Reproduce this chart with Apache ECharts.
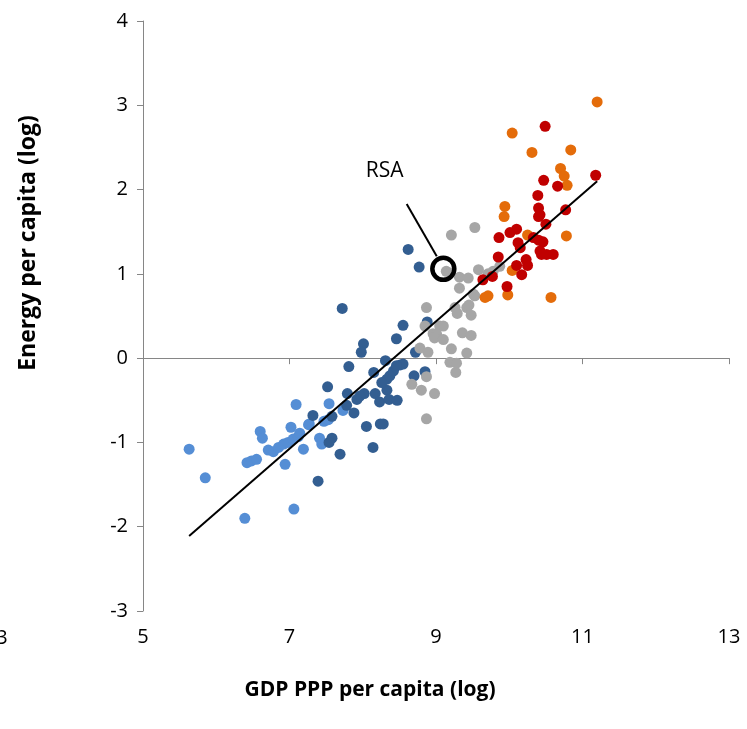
<!DOCTYPE html>
<html>
<head>
<meta charset="utf-8">
<script src="https://cdn.jsdelivr.net/npm/echarts@6/dist/echarts.min.js"></script>
<style>
  html, body { margin: 0; padding: 0; background: #fff; }
  #chart { width: 747px; height: 729px; }
</style>
</head>
<body>
<div id="chart"></div>
<script>
// 各组国家 [log GDP PPP per capita, log energy per capita]
var lightBlue = [
  [5.63, -1.08], [5.85, -1.42], [6.39, -1.90], [6.60, -0.87], [6.63, -0.95],
  [6.42, -1.24], [6.48, -1.22], [6.55, -1.20], [6.71, -1.09], [6.78, -1.11],
  [6.85, -1.06], [6.92, -1.02], [6.98, -1.00], [7.05, -0.96], [6.94, -1.26],
  [7.09, -0.55], [7.02, -0.82], [7.06, -1.79], [7.12, -0.93], [7.19, -1.08],
  [7.27, -0.78], [7.41, -0.95], [7.44, -1.02], [7.54, -0.54], [7.47, -0.75],
  [7.53, -0.73], [7.73, -0.62], [7.14, -0.89], [7.26, -0.79]
]
var darkBlue = [
  [8.62, 1.29], [8.77, 1.08], [7.72, 0.59], [8.88, 0.43], [8.55, 0.39],
  [8.46, 0.23], [8.01, 0.17], [7.98, 0.07], [8.72, 0.07], [7.81, -0.10],
  [8.31, -0.03], [8.15, -0.17], [8.51, -0.08], [8.55, -0.07], [7.52, -0.34],
  [8.70, -0.21], [8.85, -0.16], [7.79, -0.42], [8.02, -0.42], [7.96, -0.45],
  [7.92, -0.49], [8.17, -0.42], [8.23, -0.52], [8.33, -0.38], [8.36, -0.49],
  [8.47, -0.50], [7.88, -0.65], [7.78, -0.56], [8.05, -0.81], [8.24, -0.78],
  [8.28, -0.78], [7.32, -0.68], [7.58, -0.69], [8.14, -1.06], [7.69, -1.14],
  [7.58, -0.95], [7.54, -1.00], [7.39, -1.46], [8.42, -0.15], [8.37, -0.21],
  [8.33, -0.25], [8.26, -0.29], [8.46, -0.09]
]
var grey = [
  [9.53, 1.55], [9.21, 1.46], [9.14, 1.03], [9.19, 1.01], [9.32, 0.96],
  [9.44, 0.95], [9.58, 1.05], [9.32, 0.83], [9.53, 0.74], [8.87, 0.60],
  [9.26, 0.60], [9.42, 0.60], [9.45, 0.63], [9.29, 0.53], [9.48, 0.51],
  [8.85, 0.38], [9.05, 0.38], [9.10, 0.38], [8.96, 0.29], [9.01, 0.28],
  [8.98, 0.24], [9.10, 0.22], [9.36, 0.30], [9.48, 0.27], [8.78, 0.12],
  [8.89, 0.07], [9.21, 0.11], [9.42, 0.06], [9.19, -0.05], [9.28, -0.06],
  [9.27, -0.17], [8.87, -0.22], [8.67, -0.31], [8.80, -0.38], [8.98, -0.42],
  [8.87, -0.72], [9.71, 1.00], [9.78, 1.03], [9.87, 1.09], [9.51, 0.76]
]
var orange = [
  [11.20, 3.04], [10.04, 2.67], [10.31, 2.44], [10.84, 2.47], [10.70, 2.25],
  [10.75, 2.16], [10.79, 2.05], [9.94, 1.80], [9.93, 1.68], [10.25, 1.46],
  [10.78, 1.45], [10.04, 1.04], [9.71, 0.74], [9.67, 0.72], [9.98, 0.75],
  [10.57, 0.72]
]
var red = [
  [10.49, 2.75], [11.18, 2.17], [10.47, 2.11], [10.66, 2.04], [10.39, 1.93],
  [10.40, 1.78], [10.77, 1.76], [10.40, 1.68], [10.42, 1.70], [10.50, 1.59],
  [10.10, 1.53], [10.01, 1.49], [9.86, 1.43], [10.33, 1.43], [10.40, 1.40],
  [10.46, 1.38], [10.12, 1.37], [10.15, 1.31], [10.42, 1.27], [10.44, 1.23],
  [10.51, 1.23], [10.60, 1.23], [9.85, 1.20], [10.23, 1.17], [10.25, 1.10],
  [10.10, 1.10], [10.17, 0.99], [9.77, 0.97], [9.64, 0.93], [9.97, 0.85]
]
var trendLine = [[5.63, -2.11], [11.2, 2.1]]   // 回归线两端
var rsaPoint = [[9.10, 1.06]]
var rsaLeader = [[8.60, 1.83], [9.01, 1.21]]
var rsaLabelPos = [[8.30, 2.22]]

var font = 'Open Sans'

function dots (name, data, color) {
  return {
    name: name,
    type: 'scatter',
    data: data,
    symbolSize: 11,
    itemStyle: { color: color, opacity: 1 },
    z: 2
  }
}

var chart = echarts.init(document.getElementById('chart'))
var option = {
  animation: false,
  textStyle: { fontFamily: font },
  grid: { left: 143, right: 18, top: 21, bottom: 118 },
  xAxis: {
    type: 'value',
    min: 5,
    max: 13,
    interval: 2,
    splitLine: { show: false },
    axisLine: { lineStyle: { color: '#868686', width: 1 } },
    axisTick: { length: 6, lineStyle: { color: '#868686' } },
    axisLabel: { color: '#000', fontSize: 20, margin: 16, fontFamily: font }
  },
  yAxis: {
    type: 'value',
    min: -3,
    max: 4,
    interval: 1,
    splitLine: { show: false },
    axisLine: { show: true, lineStyle: { color: '#868686', width: 1 } },
    axisTick: { show: true, length: 6, lineStyle: { color: '#868686' } },
    axisLabel: { color: '#000', fontSize: 20, margin: 15, fontFamily: font }
  },
  graphic: [
    { // x轴最左端的刻度标签，被画面边缘截掉一半
      type: 'text', x: 2, y: 628,
      style: { text: '3', fill: '#000', fontSize: 20, fontFamily: font, align: 'center' }
    },
    {
      type: 'text', x: 370, y: 690,
      style: {
        text: 'GDP PPP per capita (log)', fill: '#000', fontSize: 21, fontWeight: 'bold',
        fontFamily: font, align: 'center', verticalAlign: 'middle'
      }
    },
    {
      type: 'text', x: 28, y: 243, rotation: Math.PI / 2,
      style: {
        text: 'Energy per capita (log)', fill: '#000', fontSize: 23, fontWeight: 'bold',
        fontFamily: font, align: 'center', verticalAlign: 'middle'
      }
    }
  ],
  series: [
    dots('lightBlue', lightBlue, '#558ED5'),
    dots('darkBlue', darkBlue, '#335E91'),
    dots('grey', grey, '#A6A6A6'),
    dots('orange', orange, '#E46C0A'),
    dots('red', red, '#C00000'),
    {
      type: 'line',
      data: trendLine,
      symbol: 'none',
      lineStyle: { color: '#000', width: 2 },
      z: 3
    },
    {
      type: 'line',
      data: rsaLeader,
      symbol: 'none',
      lineStyle: { color: '#000', width: 2 },
      z: 3
    },
    {
      type: 'scatter',
      data: rsaPoint,
      symbolSize: 22,
      itemStyle: { color: 'rgba(0,0,0,0)', borderColor: '#000', borderWidth: 4.5, opacity: 1 },
      z: 4
    },
    {
      type: 'scatter',
      data: rsaLabelPos,
      symbolSize: 0,
      itemStyle: { opacity: 1 },
      label: {
        show: true,
        position: 'inside',
        formatter: 'RSA',
        color: '#000',
        fontSize: 21,
        fontFamily: font
      },
      z: 4
    }
  ]
}
chart.setOption(option)
window.addEventListener('resize', function () {
  chart.resize()
})
</script>
</body>
</html>
